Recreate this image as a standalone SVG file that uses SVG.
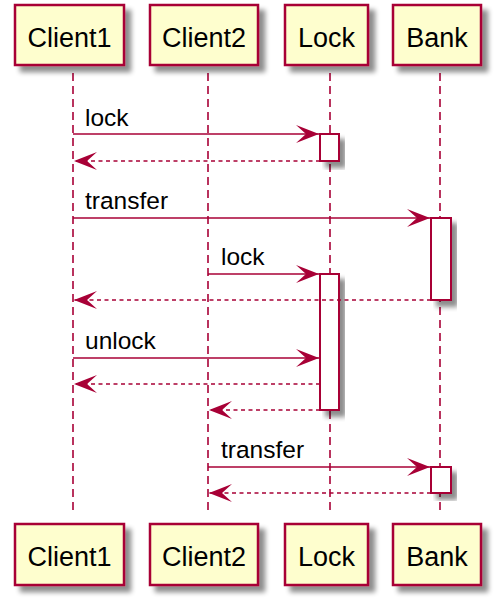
<svg xmlns="http://www.w3.org/2000/svg" width="498" height="603" viewBox="0 0 498 603">
<defs>
<filter id="sh" x="-20%" y="-20%" width="150%" height="150%">
<feGaussianBlur in="SourceAlpha" stdDeviation="2.5"/>
<feOffset dx="6" dy="6" result="b"/>
<feComponentTransfer><feFuncA type="linear" slope="0.45"/></feComponentTransfer>
<feMerge><feMergeNode/><feMergeNode in="SourceGraphic"/></feMerge>
</filter>
<marker id="ah" viewBox="0 0 23 18" refX="23" refY="9" markerWidth="23" markerHeight="18" markerUnits="userSpaceOnUse" orient="auto">
<polygon points="0,0 23,9 0,18 10,9" fill="#A80036"/>
</marker>
</defs>
<style>
.box{fill:#FEFECE;stroke:#A80036;stroke-width:2.5}
.act{fill:#FFFFFF;stroke:#A80036;stroke-width:2}
.life{stroke:#A80036;stroke-width:1.6;stroke-dasharray:8,5;fill:none}
.msg{stroke:#A80036;stroke-width:1.6;fill:none}
.ret{stroke:#A80036;stroke-width:1.6;fill:none;stroke-dasharray:4,3.5}
.pt{font-family:"Liberation Sans",Arial,sans-serif;font-size:27px;fill:#000;text-anchor:middle}
.ml{font-family:"Liberation Sans",Arial,sans-serif;font-size:24.5px;fill:#000}
</style>
<g id="lifelines">
<line class="life" x1="73" y1="73" x2="73" y2="515"/>
<line class="life" x1="208" y1="73" x2="208" y2="515"/>
<line class="life" x1="330" y1="73" x2="330" y2="515"/>
<line class="life" x1="440" y1="73" x2="440" y2="515"/>
</g>
<g id="participant-Client1">
<rect class="box" x="15" y="5" width="109" height="60" filter="url(#sh)"/>
<text class="pt" x="69.5" y="46.5">Client1</text>
<rect class="box" x="15" y="524" width="109" height="61" filter="url(#sh)"/>
<text class="pt" x="69.5" y="565.5">Client1</text>
</g>
<g id="participant-Client2">
<rect class="box" x="150" y="5" width="108" height="60" filter="url(#sh)"/>
<text class="pt" x="204" y="46.5">Client2</text>
<rect class="box" x="150" y="524" width="108" height="61" filter="url(#sh)"/>
<text class="pt" x="204" y="565.5">Client2</text>
</g>
<g id="participant-Lock">
<rect class="box" x="285" y="5" width="83" height="60" filter="url(#sh)"/>
<text class="pt" x="326.5" y="46.5">Lock</text>
<rect class="box" x="285" y="524" width="83" height="61" filter="url(#sh)"/>
<text class="pt" x="326.5" y="565.5">Lock</text>
</g>
<g id="participant-Bank">
<rect class="box" x="393" y="5" width="88" height="60" filter="url(#sh)"/>
<text class="pt" x="437" y="46.5">Bank</text>
<rect class="box" x="393" y="524" width="88" height="61" filter="url(#sh)"/>
<text class="pt" x="437" y="565.5">Bank</text>
</g>
<g id="activations">
<rect class="act" x="320" y="134" width="19" height="27" filter="url(#sh)"/>
<rect class="act" x="431" y="218" width="20" height="82" filter="url(#sh)"/>
<rect class="act" x="320" y="274" width="19" height="136" filter="url(#sh)"/>
<rect class="act" x="431" y="467" width="20" height="26" filter="url(#sh)"/>
</g>
<g id="connectors">
<line class="msg" x1="73" y1="134" x2="319" y2="134" marker-end="url(#ah)"/>
<line class="ret" x1="320" y1="161" x2="74" y2="161" marker-end="url(#ah)"/>
<line class="msg" x1="73" y1="218" x2="430" y2="218" marker-end="url(#ah)"/>
<line class="msg" x1="208" y1="274" x2="319" y2="274" marker-end="url(#ah)"/>
<line class="ret" x1="431" y1="300" x2="74" y2="300" marker-end="url(#ah)"/>
<line class="msg" x1="73" y1="358" x2="319" y2="358" marker-end="url(#ah)"/>
<line class="ret" x1="320" y1="384" x2="74" y2="384" marker-end="url(#ah)"/>
<line class="ret" x1="320" y1="410" x2="209" y2="410" marker-end="url(#ah)"/>
<line class="msg" x1="208" y1="467" x2="430" y2="467" marker-end="url(#ah)"/>
<line class="ret" x1="431" y1="493" x2="209" y2="493" marker-end="url(#ah)"/>
</g>
<g id="labels">
<text class="ml" x="85" y="126">lock</text>
<text class="ml" x="85" y="209">transfer</text>
<text class="ml" x="221" y="265">lock</text>
<text class="ml" x="85" y="349">unlock</text>
<text class="ml" x="221" y="458">transfer</text>
</g>
</svg>
